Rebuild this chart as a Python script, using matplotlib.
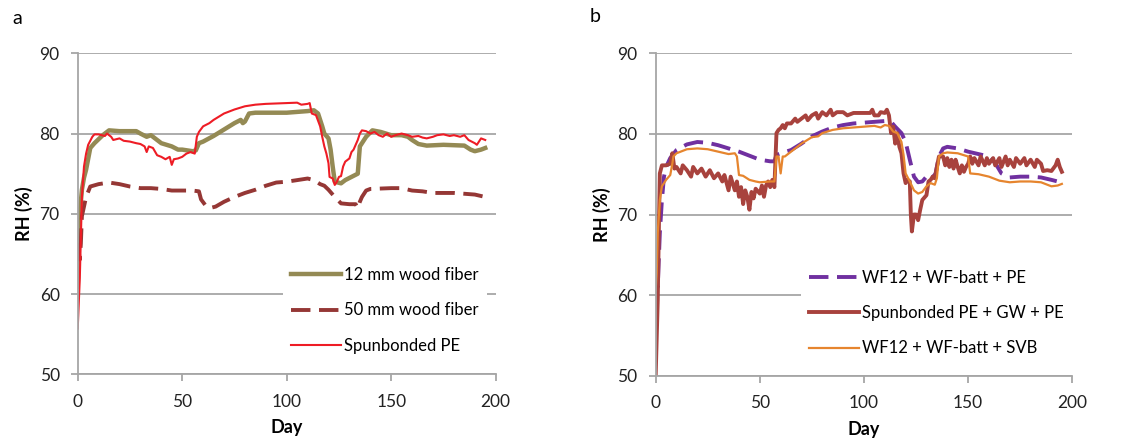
"""
RH in the wall cavity over time, panels a and b
"""
import numpy as np
import matplotlib
matplotlib.use('Agg')
import matplotlib.pyplot as plt

plt.rcParams['font.family'] = ['Lato', 'DejaVu Sans']

# panel a: (day, RH %)
wf12 = [(0, 60.9), (1, 70.0), (2, 73.0), (3, 74.5), (4, 75.5), (6, 78.2), (8, 78.8),
        (12, 79.8), (15, 80.4), (20, 80.3), (28, 80.3), (30, 80.0), (33, 79.6), (35, 79.8),
        (38, 79.2), (40, 78.8), (45, 78.4), (48, 78.0), (50, 78.0), (55, 77.8), (56.5, 77.9),
        (58, 78.8), (60, 79.0), (65, 79.7), (70, 80.5), (75, 81.3), (78, 81.7), (79, 81.3),
        (80, 81.5), (82, 82.5), (85, 82.6), (100, 82.6), (110, 82.8), (113, 82.9), (115, 82.5),
        (117, 80.9), (118, 80.0), (120, 79.4), (121, 78.0), (122, 75.9), (123, 74.0), (126, 73.8),
        (128, 74.2), (131, 74.6), (134, 75.0), (135, 78.4), (138, 79.6), (141, 80.4), (145, 80.2),
        (150, 79.8), (155, 79.8), (158, 79.6), (160, 79.2), (163, 78.7), (167, 78.5), (175, 78.6),
        (185, 78.5), (188, 78.0), (190, 77.8), (193, 78.0), (195, 78.2)]

wf50 = [(0, 66.3), (1, 64.3), (1.5, 66.3), (2, 69.7), (3, 70.9), (4, 72.1), (6, 73.4),
        (10, 73.7), (15, 73.9), (20, 73.7), (25, 73.4), (30, 73.2), (35, 73.2), (40, 73.1),
        (45, 72.9), (50, 72.9), (55, 72.9), (58, 72.8), (59, 71.8), (61, 71.1), (63, 70.7),
        (66, 70.9), (70, 71.5), (75, 72.1), (80, 72.6), (85, 73.0), (90, 73.5), (95, 73.9),
        (100, 74.0), (105, 74.2), (110, 74.4), (113, 74.2), (116, 73.7), (118, 73.5), (120, 73.0),
        (123, 72.1), (126, 71.3), (130, 71.2), (133, 71.2), (134, 70.7), (135, 71.5), (136, 72.1),
        (138, 72.9), (140, 73.1), (150, 73.2), (155, 73.2), (160, 72.9), (165, 72.8), (170, 72.6),
        (180, 72.6), (185, 72.5), (190, 72.4), (195, 72.1)]

spunpe = [(0, 55.7), (1, 62.0), (2, 72.1), (3, 75.9), (4, 77.5), (5, 78.6), (7, 79.6),
          (8, 79.9), (10, 79.9), (13, 79.7), (14, 80.0), (16, 79.6), (17, 79.2), (20, 79.4),
          (22, 79.1), (25, 79.0), (28, 78.8), (30, 78.7), (32, 78.4), (33, 77.7), (34, 78.4),
          (36, 78.2), (38, 77.3), (40, 77.1), (42, 76.8), (44, 77.1), (45, 76.1), (46, 76.8),
          (48, 76.9), (50, 77.1), (52, 77.5), (54, 77.7), (56, 77.5), (57, 79.6), (58, 80.2),
          (60, 80.9), (63, 81.3), (65, 81.7), (70, 82.5), (75, 83.0), (80, 83.4), (85, 83.6),
          (90, 83.7), (100, 83.8), (105, 83.85), (107, 83.6), (110, 83.7), (111, 83.8),
          (112, 82.5), (114, 82.3), (116, 80.9), (117, 79.6), (118, 78.4), (119, 77.5),
          (120, 76.3), (120.5, 74.6), (122, 74.4), (123, 73.6), (124, 74.0), (125, 74.6),
          (126, 74.7), (127, 75.9), (128, 76.5), (130, 76.9), (131, 77.7), (132, 78.0),
          (134, 79.2), (135, 80.0), (136, 80.4), (138, 80.3), (140, 80.0), (142, 80.2),
          (144, 79.8), (146, 79.6), (148, 80.0), (150, 79.6), (152, 79.8), (155, 80.0),
          (158, 79.8), (160, 79.6), (163, 79.7), (165, 79.5), (167, 79.4), (170, 79.6),
          (172, 79.8), (175, 79.9), (178, 79.7), (180, 79.8), (183, 79.6), (185, 79.8),
          (187, 79.2), (190, 78.8), (191, 78.6), (193, 79.4), (195, 79.2)]

# panel b
wf_pe = [(0, 63.3), (1, 61.0), (2, 67.7), (3, 71.8), (4, 74.7), (5, 75.9), (7, 77.0),
         (10, 78.0), (15, 78.7), (20, 79.0), (25, 78.9), (30, 78.6), (35, 78.2), (40, 77.8),
         (45, 77.3), (50, 76.8), (55, 76.6), (57, 76.6), (58, 77.4), (60, 77.6), (65, 78.0),
         (70, 78.8), (75, 79.7), (80, 80.3), (85, 80.8), (90, 81.1), (95, 81.3), (100, 81.4),
         (105, 81.5), (110, 81.6), (113, 81.5), (115, 80.9), (118, 80.1), (120, 79.0),
         (122, 76.8), (124, 74.7), (126, 74.0), (128, 74.1), (130, 74.7), (132, 75.1),
         (134, 74.6), (136, 77.2), (138, 78.2), (140, 78.4), (145, 78.2), (150, 77.8),
         (155, 77.5), (160, 77.2), (163, 76.4), (166, 75.1), (170, 74.6), (175, 74.7),
         (180, 74.7), (185, 74.6), (190, 74.3), (193, 74.1), (195, 74.5)]

spun_gw = [(0, 50.0), (1, 59.4), (1.5, 67.7), (2, 75.1), (3, 76.1), (5, 76.1), (7, 76.3),
           (8, 77.6), (9, 75.7), (10, 75.9), (12, 75.1), (13, 76.1), (15, 75.5), (17, 74.7),
           (18, 75.9), (20, 75.1), (22, 75.7), (24, 74.7), (26, 75.5), (28, 74.5), (30, 75.1),
           (32, 74.1), (33, 74.9), (35, 73.0), (36, 74.7), (38, 73.0), (39, 74.1), (40, 72.2),
           (41, 73.4), (42, 71.3), (43, 73.0), (44, 72.2), (45, 70.6), (46, 72.8), (47, 72.0),
           (48, 73.2), (50, 72.6), (51, 73.6), (52, 72.2), (53, 73.6), (54, 74.1), (55, 73.4),
           (56, 74.3), (57, 73.4), (58, 80.1), (59, 80.5), (60, 80.7), (61, 81.1), (62, 80.7),
           (63, 81.3), (65, 81.3), (67, 81.9), (68, 81.5), (70, 81.9), (72, 82.3), (73, 81.7),
           (75, 82.3), (77, 82.6), (78, 81.9), (80, 82.7), (82, 82.3), (84, 83.0), (85, 82.3),
           (87, 82.7), (90, 82.7), (92, 82.3), (95, 82.6), (100, 82.6), (103, 82.6), (104, 83.0),
           (105, 82.3), (107, 82.3), (108, 82.7), (110, 82.6), (111, 83.0), (112, 82.3),
           (113, 80.1), (114, 80.9), (115, 78.8), (116, 80.1), (117, 78.4), (118, 77.6),
           (119, 75.1), (120, 73.9), (121, 74.3), (122, 74.1), (122.5, 70.0), (123, 67.9),
           (124, 70.0), (125, 70.0), (126, 69.3), (127, 70.6), (128, 71.8), (130, 72.4),
           (131, 74.1), (132, 74.3), (133, 74.7), (134, 74.5), (135, 75.9), (136, 77.2),
           (138, 77.2), (139, 76.1), (140, 77.0), (141, 75.9), (142, 76.8), (143, 75.7),
           (144, 76.8), (145, 75.9), (146, 75.1), (147, 76.1), (148, 75.3), (149, 75.9),
           (150, 76.3), (151, 77.2), (152, 76.3), (153, 77.0), (155, 76.1), (156, 77.2),
           (158, 76.1), (159, 77.0), (160, 76.3), (162, 77.0), (163, 76.1), (165, 77.0),
           (166, 75.9), (168, 77.2), (169, 76.1), (170, 76.8), (172, 75.9), (173, 77.0),
           (175, 76.3), (177, 77.0), (178, 76.1), (180, 76.8), (182, 75.9), (183, 76.8),
           (185, 76.3), (186, 75.4), (188, 75.5), (190, 75.4), (192, 76.1), (193, 76.8),
           (194, 75.9), (195, 75.3)]

wf_svb = [(0, 60.6), (0.5, 62.7), (1, 67.7), (2, 71.8), (3, 73.5), (5, 74.3), (7, 74.9),
          (8, 76.3), (8.5, 77.2), (10, 77.6), (15, 78.1), (20, 78.2), (25, 78.1), (30, 77.8),
          (35, 77.5), (38, 77.6), (39, 77.2), (40, 74.9), (42, 74.8), (45, 74.3), (48, 74.1),
          (50, 74.0), (55, 74.1), (57, 74.1), (58, 77.2), (59, 77.2), (60, 75.1), (61, 77.2),
          (62, 77.2), (65, 77.8), (70, 78.8), (75, 79.6), (78, 79.7), (80, 80.1), (85, 80.5),
          (90, 80.7), (95, 80.8), (100, 80.9), (105, 81.0), (108, 80.8), (110, 81.1), (112, 81.0),
          (114, 80.3), (116, 80.1), (118, 79.0), (119, 77.4), (120, 75.1), (122, 74.1),
          (124, 73.0), (126, 72.6), (128, 72.8), (130, 73.5), (132, 73.9), (134, 73.7),
          (135, 74.5), (136, 77.2), (138, 77.6), (140, 77.7), (145, 77.6), (150, 77.2),
          (151, 75.1), (155, 75.0), (160, 74.7), (165, 74.2), (170, 74.0), (175, 74.1),
          (180, 74.1), (185, 74.0), (190, 73.5), (193, 73.6), (195, 73.8)]

grid_col = '#a6a6a6'
fs = 12.5
leg_fs = 12

fig = plt.figure(figsize=(11.33, 4.41), dpi=100)
ax_a = fig.add_axes([0.0686, 0.1512, 0.3689, 0.7279])
ax_b = fig.add_axes([0.5787, 0.1480, 0.3677, 0.7311])


def style(ax):
    ax.set_xlim(0, 200)
    ax.set_ylim(50, 90)
    ax.set_xticks([0, 50, 100, 150, 200])
    ax.set_yticks([50, 60, 70, 80, 90])
    for s in ['top', 'right']:
        ax.spines[s].set_visible(False)
    for s in ['left', 'bottom']:
        ax.spines[s].set_color(grid_col)
        ax.spines[s].set_linewidth(1.3)
    ax.yaxis.grid(True, color=grid_col, linewidth=1.3)
    ax.set_axisbelow(True)
    ax.tick_params(direction='out', length=5, width=1.3, color=grid_col,
                   labelsize=fs, labelcolor='#222222')
    ax.tick_params(axis='y', pad=8)
    ax.tick_params(axis='x', pad=9)
    ax.set_xlabel('Day', fontsize=13, fontweight='bold', labelpad=7)
    ax.set_ylabel('RH (%)', fontsize=13, fontweight='bold', labelpad=5)


def draw(ax, pts, **kw):
    d, rh = np.array(pts).T
    ax.plot(d, rh, **kw)


def add_legend(ax, x, y):
    leg = ax.legend(loc='center left', bbox_to_anchor=(x, y), fontsize=leg_fs,
                    frameon=True, fancybox=False, edgecolor='none', facecolor='white',
                    framealpha=1, handlelength=3.0, handletextpad=0.15, labelspacing=1.15,
                    borderaxespad=0, borderpad=0.5)
    leg.get_frame().set_linewidth(0)


style(ax_a)
draw(ax_a, wf12, color='#948a54', lw=3.2, label='12 mm wood fiber')
draw(ax_a, wf50, color='#953735', lw=2.8, dashes=(5, 2.2), label='50 mm wood fiber')
draw(ax_a, spunpe, color='#ee1c25', lw=1.5, label='Spunbonded PE')
add_legend(ax_a, 0.491, 0.199)

style(ax_b)
draw(ax_b, wf_pe, color='#7030a0', lw=2.8, dashes=(5, 2.2), label='WF12 + WF-batt + PE')
draw(ax_b, spun_gw, color='#a8423d', lw=2.8, label='Spunbonded PE + GW + PE')
draw(ax_b, wf_svb, color='#e6852e', lw=1.6, label='WF12 + WF-batt + SVB')
add_legend(ax_b, 0.349, 0.194)

fig.text(12 / 1133, 1 - 18 / 441, 'a', fontsize=14, va='center', ha='left')
fig.text(590 / 1133, 1 - 17 / 441, 'b', fontsize=14, va='center', ha='left')

plt.savefig('out.png', dpi=100)
